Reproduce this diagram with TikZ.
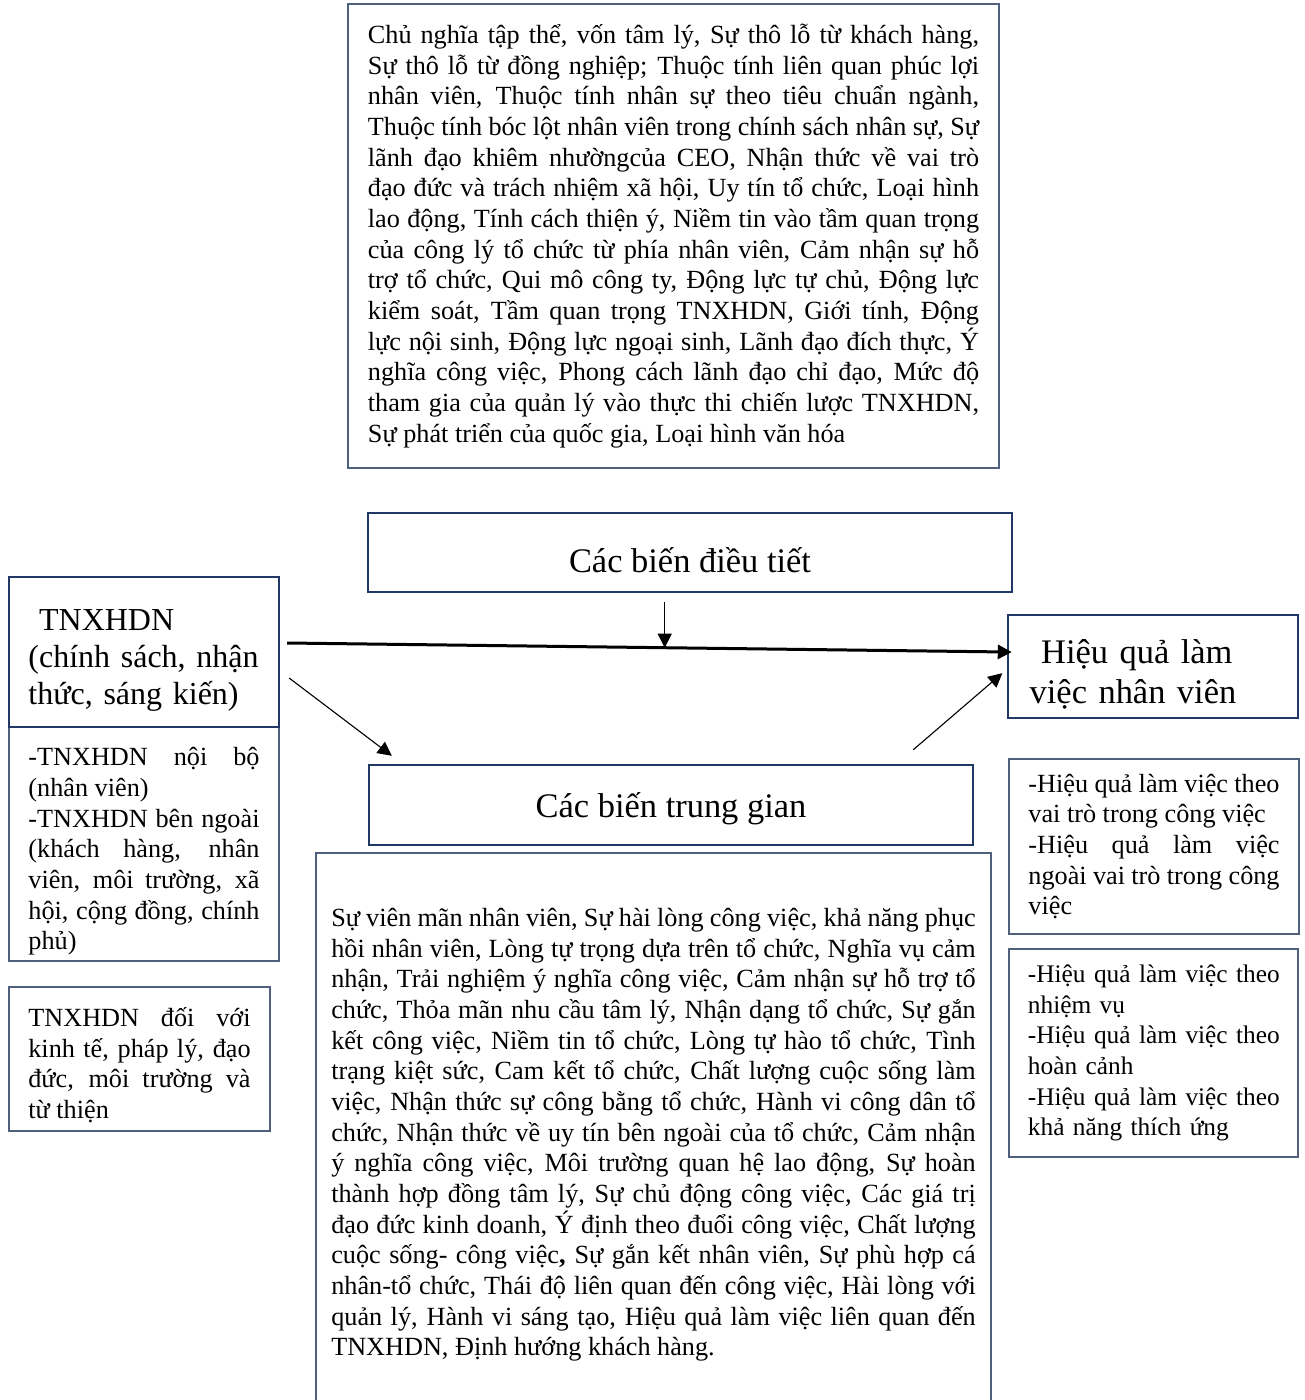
\documentclass[tikz,border=0pt]{standalone}
\usepackage{fontspec}
\setmainfont{Liberation Serif}
\usetikzlibrary{arrows.meta,positioning}
\definecolor{navy}{RGB}{31,56,100}
\definecolor{listline}{RGB}{80,96,124}
\hyphenpenalty=10000
\exhyphenpenalty=10000
\newcommand{\fullline}[1]{\makebox[\linewidth][s]{#1}}

\begin{document}
\begin{tikzpicture}[x=0.45pt,y=-0.45pt,
  every node/.style={inner sep=0pt},
  keybox/.style={draw=navy,line width=1.1pt},
  listbox/.style={draw=listline,line width=0.6pt,align=justify,
    font=\fontsize{11.8}{13.8}\selectfont},
  bigtext/.style={font=\fontsize{15.5}{18}\selectfont},
  link/.style={-{Triangle[length=6.3pt,width=6.3pt]},line width=0.5pt},
  mainlink/.style={link,line width=1.35pt}]
  \useasboundingbox (0,0) rectangle (1305,1400);

  % moderators
  \node[listbox,minimum width=292.95pt,minimum height=208.8pt,text width=275pt] (modlist) at (673.5,236)
    {Chủ nghĩa tập thể, vốn tâm lý, Sự thô lỗ từ khách hàng,\linebreak
     Sự thô lỗ từ đồng nghiệp; Thuộc tính liên  quan phúc lợi\linebreak
     nhân viên, Thuộc tính nhân sự theo tiêu chuẩn ngành,\linebreak
     Thuộc tính bóc lột nhân viên trong chính sách nhân sự, Sự\linebreak
     lãnh đạo khiêm nhườngcủa CEO, Nhận thức về vai trò\linebreak
     đạo đức và trách nhiệm xã hội, Uy tín tổ chức, Loại hình\linebreak
     lao động, Tính cách thiện ý, Niềm tin vào tầm quan trọng\linebreak
     của công lý tổ chức từ phía nhân viên, Cảm nhận sự hỗ\linebreak
     trợ tổ chức, Qui mô công ty, Động lực tự chủ, Động lực\linebreak
     kiểm soát, Tầm quan trọng TNXHDN, Giới tính, Động\linebreak
     lực nội sinh, Động lực ngoại sinh, Lãnh đạo đích thực, Ý\linebreak
     nghĩa công việc, Phong cách lãnh đạo chỉ đạo, Mức độ\linebreak
     tham gia của quản lý vào thực thi chiến lược TNXHDN,\linebreak
     Sự phát triển của quốc gia, Loại hình văn hóa};
  \node[keybox,bigtext,minimum width=289.8pt,minimum height=35.55pt,
    text height=20.8pt,text depth=3pt] (mod) at (690,552.5) {Các biến điều tiết};

  % CSR side
  \node[listbox,minimum width=121.5pt,minimum height=105.3pt,text width=104pt] (csrint) at (144,844)
    {\rule{0pt}{15pt}-TNXHDN nội bộ\linebreak (nhân viên)\\
     -TNXHDN bên ngoài\linebreak
     (khách hàng, nhân\linebreak
     viên, môi trường, xã\linebreak
     hội, cộng đồng, chính\linebreak
     phủ)};
  \node[keybox,minimum width=121.5pt,minimum height=67.5pt,text width=104pt,align=left,
    font=\fontsize{14.4}{16.65}\selectfont] (csr) at (144,652)
    {\rule{0pt}{17pt}\ TNXHDN\\(chính sách, nhận\\thức, sáng kiến)};
  \node[listbox,minimum width=117.45pt,minimum height=64.8pt,text width=100pt] (csrdim) at (139.5,1059)
    {\rule{0pt}{14pt}TNXHDN đối với\linebreak
     kinh tế, pháp lý, đạo\linebreak
     đức, môi trường và\linebreak
     từ thiện};

  % mediators
  \node[keybox,bigtext,minimum width=271.8pt,minimum height=36pt,
    text height=14.1pt,text depth=3pt] (med) at (671,805) {Các biến trung gian};
  \node[listbox,minimum width=303.75pt,minimum height=247.95pt,text width=290pt] (medlist) at (653.5,1128.5)
    {\rule{0pt}{14pt}Sự viên mãn nhân viên, Sự hài lòng công việc, khả năng phục\linebreak
     hồi nhân viên, Lòng  tự trọng dựa trên tổ chức, Nghĩa vụ cảm\linebreak
     nhận, Trải nghiệm ý nghĩa công việc, Cảm nhận sự hỗ trợ tổ\linebreak
     chức, Thỏa mãn nhu cầu tâm lý, Nhận dạng tổ chức, Sự gắn\linebreak
     kết công việc, Niềm tin tổ chức, Lòng tự hào tổ chức, Tình\linebreak
     trạng kiệt sức, Cam kết tổ chức, Chất lượng cuộc sống làm\linebreak
     việc, Nhận thức sự công bằng tổ chức, Hành vi công dân tổ\linebreak
     chức, Nhận thức về uy tín bên ngoài của tổ chức, Cảm nhận\linebreak
     ý nghĩa công việc, Môi trường quan hệ lao động, Sự hoàn\linebreak
     thành hợp đồng tâm lý, Sự chủ động công việc, Các giá trị\linebreak
     đạo đức kinh doanh, Ý định theo đuổi công việc, Chất lượng\linebreak
     cuộc sống- công việc\textbf{,} Sự gắn kết nhân viên, Sự phù hợp cá\linebreak
     nhân-tổ chức, Thái độ liên quan đến công việc, Hài lòng với\linebreak
     quản lý, Hành vi sáng tạo, Hiệu quả làm việc liên quan đến\linebreak
     TNXHDN, Định hướng khách hàng.};

  % performance side
  \node[keybox,bigtext,minimum width=130.5pt,minimum height=46.35pt,text width=111pt,align=left]
    (perf) at (1153,666.5) {\rule{0pt}{18pt}\ Hiệu quả làm\\việc nhân viên};
  \node[listbox,minimum width=130.5pt,minimum height=78.75pt,text width=113pt] (perfrole) at (1154,846.5)
    {-Hiệu quả làm việc theo\linebreak
     vai trò trong công việc\\
     -Hiệu quả làm việc\linebreak
     ngoài vai trò trong công\linebreak
     việc};
  \node[listbox,minimum width=130pt,minimum height=93.6pt,text width=113pt,align=left,
    font=\fontsize{11.4}{13.8}\selectfont] (perftype) at (1153.5,1053)
    {\fullline{-Hiệu quả làm việc theo}\\nhiệm vụ\\
     \fullline{-Hiệu quả làm việc theo}\\hoàn cảnh\\
     \fullline{-Hiệu quả làm việc theo}\\khả năng thích ứng};

  % links
  \draw[mainlink] ([xshift=3.15pt,yshift=4.05pt]csr.east) -- coordinate[pos=0.521] (hit)
    ([xshift=2.25pt,yshift=6.5pt]perf.west);
  \draw[link] ([yshift=-4pt]hit |- mod.south) -- (hit);
  \draw[link] ([xshift=4pt,yshift=-11.7pt]csr.east) -- ([xshift=10.8pt,yshift=3.6pt]med.north west);
  \draw[link] ([xshift=-27.45pt,yshift=6.3pt]med.north east) -- ([xshift=-2pt,yshift=-3pt]perf.west);
\end{tikzpicture}
\end{document}
